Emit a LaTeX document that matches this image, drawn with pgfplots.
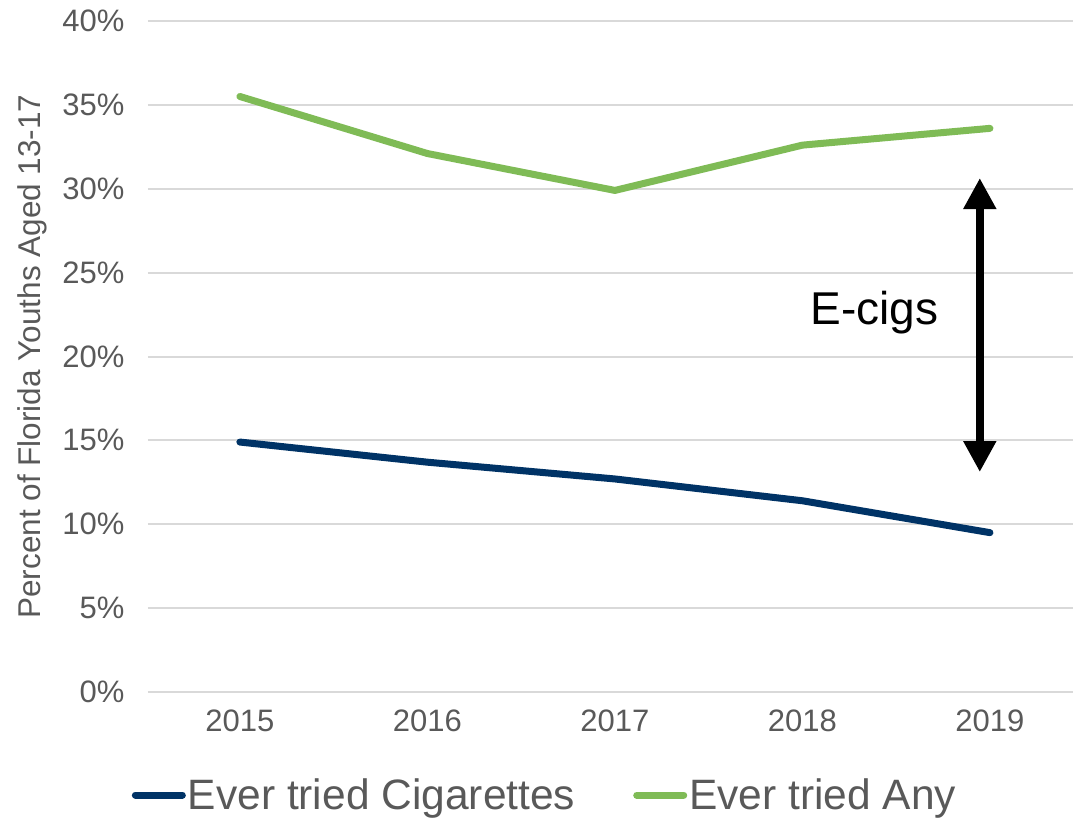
\documentclass[border=0pt]{standalone}
\usepackage{fontspec}
\setmainfont{Liberation Sans}
\usepackage{pgfplots}
\pgfplotsset{compat=1.18}
\usetikzlibrary{arrows.meta}

\definecolor{cigblue}{RGB}{0,51,102}
\definecolor{anygreen}{RGB}{127,187,86}
\definecolor{txtgray}{RGB}{89,89,89}
\definecolor{gridgray}{RGB}{217,217,217}

\begin{document}
\begin{tikzpicture}
\begin{axis}[
    scale only axis,
    width=925pt, height=671pt,
    xmin=-0.49, xmax=4.443,
    ymin=0, ymax=40,
    xtick={0,1,2,3,4},
    xticklabels={2015,2016,2017,2018,2019},
    ytick={0,5,...,40},
    yticklabel={\pgfmathprintnumber{\tick}\%},
    /pgf/number format/assume math mode=true,
    axis line style={draw=none},
    tick style={draw=none},
    ymajorgrids=true,
    grid style={gridgray, line width=2pt},
    ticklabel style={font=\fontsize{31}{31}\selectfont, text=txtgray},
    yticklabel style={xshift=-20pt},
    xticklabel style={yshift=-14pt},
    ylabel={Percent of Florida Youths Aged 13-17},
    ylabel style={font=\fontsize{31.5}{31.5}\selectfont, text=txtgray,
                  at={(axis description cs:-0.1254,0.5)}, anchor=center},
    legend columns=2,
    legend style={draw=none, fill=none, at={(0.4292,-0.1535)}, anchor=center,
                  font=\fontsize{42.5}{42.5}\selectfont, text=txtgray,
                  /tikz/every even column/.append style={column sep=56pt}},
    legend image code/.code={\draw[#1, line width=7pt, line cap=round] (0pt,0pt) -- (47pt,0pt);},
]
\addplot[cigblue, line width=7pt, line cap=round, line join=round] coordinates {
    (0,14.9) (1,13.7) (2,12.7) (3,11.4) (4,9.5)
};
\addplot[anygreen, line width=7pt, line cap=round, line join=round] coordinates {
    (0,35.5) (1,32.1) (2,29.9) (3,32.6) (4,33.6)
};
\legend{Ever tried Cigarettes, Ever tried Any}
\draw[black, line width=8pt, {Triangle[width=31pt,length=31pt]}-{Triangle[width=31pt,length=31pt]}]
    (axis cs:3.946,30.64) -- (axis cs:3.946,13.11);
\node[anchor=base, font=\fontsize{46}{46}\selectfont, inner sep=0pt] at (axis cs:3.383,21.88) {E-cigs};
\end{axis}
\pgfresetboundingbox
\path[use as bounding box] (-148pt,-127pt) rectangle (925pt,692pt);
\end{tikzpicture}
\end{document}
